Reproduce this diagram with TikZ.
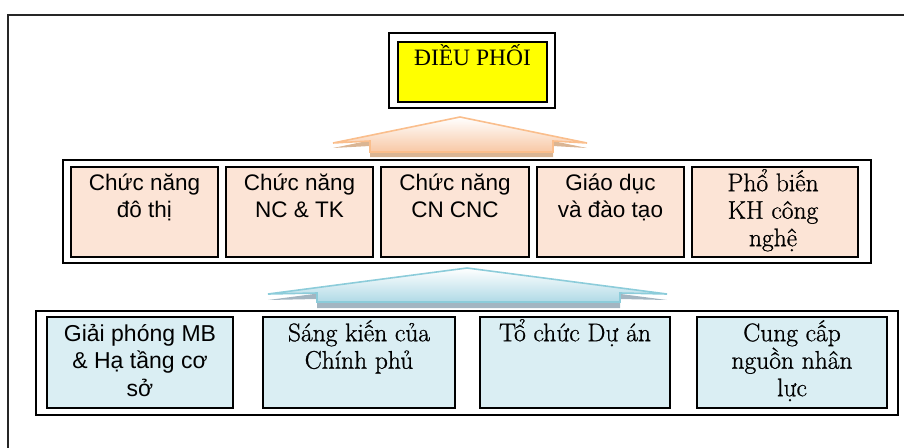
\documentclass[tikz,border=0pt]{standalone}
\usepackage{fontspec}
\newfontfamily\sansf{Liberation Sans}
\newfontfamily\timesf{Liberation Serif}
\newfontfamily\schoolf[FakeBold=0.9]{Latin Modern Roman}
\definecolor{peach}{RGB}{252,228,214}
\definecolor{lblue}{RGB}{218,238,243}
\definecolor{yel}{RGB}{255,255,0}
\definecolor{orline}{RGB}{250,190,140}
\definecolor{orfill}{RGB}{248,200,165}
\definecolor{orshadow}{RGB}{212,168,128}
\definecolor{blline}{RGB}{140,204,218}
\definecolor{blfill}{RGB}{176,218,230}
\definecolor{blshadow}{RGB}{140,163,178}
\begin{document}
\begin{tikzpicture}[x=1pt,y=-1pt,
  frame/.style={draw=black, line width=1.8pt, fill=white, inner sep=0pt},
  cell/.style={draw=black, line width=1.9pt, inner sep=0pt},
  midcell/.style={cell, fill=peach, minimum height=90pt},
  botcell/.style={cell, fill=lblue, minimum height=91pt},
  txt/.style={anchor=north, inner sep=0pt, align=center},
  sanstxt/.style={txt, font=\sansf\fontsize{22.5}{27.5}\selectfont},
  seriftxt/.style={txt, font=\schoolf\fontsize{25.5}{27.5}\selectfont},
]
\useasboundingbox (0,0) rectangle (904,447);
% outer frame (only left and top edges are visible)
\draw[line width=1.3pt, black!85] (8,450) -- (8,15) -- (910,15);

% top box
\node[frame, minimum width=166pt, minimum height=75pt] (topout) at (472,70.5) {};
\node[draw=black, line width=2.4pt, fill=yel, minimum width=149pt, minimum height=60pt, inner sep=0pt] (topin) at (472.5,72) {};
\node[txt, font=\timesf\fontsize{23.5}{27}\selectfont] (toptxt) at (472.5,42) {\rule{0pt}{23pt}ĐIỀU PHỐI};

% orange arrow
\fill[orshadow, opacity=0.85] (460,122) -- (587,148) -- (553,146) -- (553,157) -- (370,157) -- (370,146) -- (333,148) -- cycle;
\path[draw=orline, line width=1.6pt, top color=white, bottom color=orfill, line join=miter]
  (460,117) -- (587,143) -- (553,141) -- (553,152) -- (370,152) -- (370,141) -- (333,143) -- cycle;

% middle frame and cells
\node[frame, minimum width=808pt, minimum height=103pt] (midframe) at (467,211.5) {};
\node[midcell, minimum width=147pt] (m1) at (144.5,212) {};
\node[midcell, minimum width=147pt] (m2) at (299.5,212) {};
\node[midcell, minimum width=148pt] (m3) at (455,212) {};
\node[midcell, minimum width=147pt] (m4) at (610.5,212) {};
\node[midcell, minimum width=166pt] (m5) at (775,212) {};
\node[sanstxt] (m1t) at (144.5,167) {\rule{0pt}{23pt}Chức năng\\đô thị};
\node[sanstxt] (m2t) at (299.5,167) {\rule{0pt}{23pt}Chức năng\\NC \& TK};
\node[sanstxt] (m3t) at (455,167) {\rule{0pt}{23pt}Chức năng\\CN CNC};
\node[sanstxt] (m4t) at (610.5,167) {\rule{0pt}{23pt}Giáo dục\\và đào tạo};
\node[seriftxt] (m5t) at (773,168) {\rule{0pt}{23pt}Phổ biến\\KH công\\nghệ};

% blue arrow
\fill[blshadow, opacity=0.8] (467,274) -- (667,300) -- (620,299) -- (620,308) -- (317,308) -- (317,299) -- (268,300) -- cycle;
\path[draw=blline, line width=1.6pt, top color=white, bottom color=blfill, line join=miter]
  (467,268) -- (667,294) -- (620,293) -- (620,302) -- (317,302) -- (317,293) -- (268,294) -- cycle;

% bottom frame and cells
\node[frame, minimum width=862pt, minimum height=104pt] (botframe) at (467,363) {};
\node[botcell, minimum width=186pt] (b1) at (140,362.5) {};
\node[botcell, minimum width=192pt] (b2) at (359,362.5) {};
\node[botcell, minimum width=190pt] (b3) at (575,362.5) {};
\node[botcell, minimum width=190pt] (b4) at (792,362.5) {};
\node[sanstxt, font=\sansf\fontsize{23}{27.5}\selectfont] (b1t) at (140,318) {\rule{0pt}{23pt}Giải phóng MB\\\& Hạ tầng cơ\\sở};
\node[seriftxt] (b2t) at (359,318) {\rule{0pt}{23pt}Sáng kiến của\\Chính phủ};
\node[seriftxt] (b3t) at (575,318) {\rule{0pt}{23pt}Tổ chức Dự án};
\node[seriftxt] (b4t) at (792,318) {\rule{0pt}{23pt}Cung cấp\\nguồn nhân\\lực};
\end{tikzpicture}
\end{document}
